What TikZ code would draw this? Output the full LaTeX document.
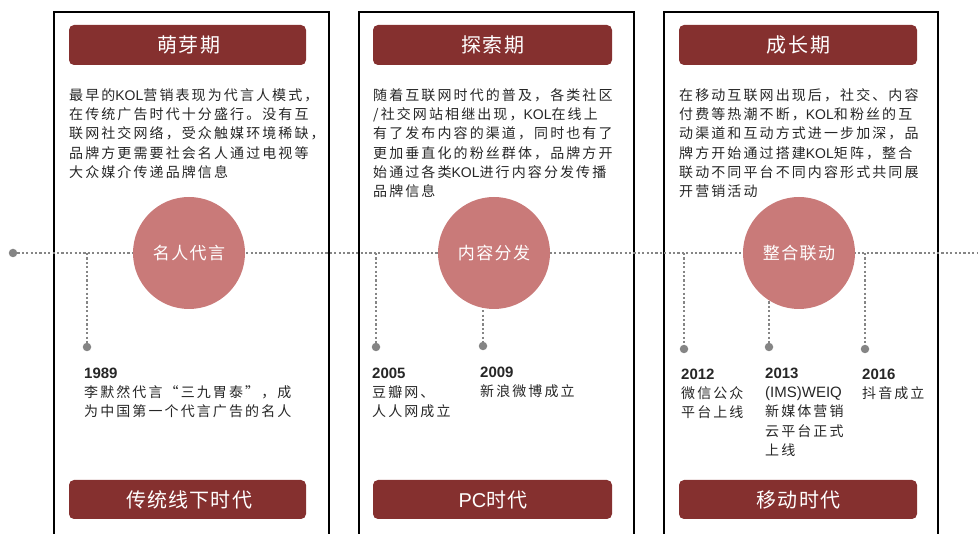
\documentclass[tikz,border=0pt]{standalone}
\usepackage{fontspec}
\setmainfont{Liberation Sans}
\newfontfamily\cjk[LetterSpace=15]{Noto Sans CJK SC}
\newfontfamily\cjktitle[LetterSpace=8]{Noto Sans CJK SC}
\newfontfamily\cjkera[LetterSpace=6]{Noto Sans CJK SC}
\newfontfamily\cjkcirc[LetterSpace=8]{Noto Sans CJK SC}
\newcommand\lat[1]{{\normalfont #1}}
\newcommand\fstrut{\rule{0pt}{14pt}}
\newcommand\yr[1]{\rule{0pt}{15pt}{\normalfont\fontsize{15}{19.3}\selectfont\bfseries #1}}
\definecolor{darkred}{HTML}{85302F}
\definecolor{pinkred}{HTML}{C97A79}
\definecolor{dotgray}{HTML}{858585}
\definecolor{txt}{HTML}{262626}
\tikzset{
  panel/.style={draw=black, line width=1.4pt},
  bar/.style={fill=darkred, draw=none, rounded corners=5pt},
  titletext/.style={text=white, font=\cjktitle\fontsize{20}{22}\selectfont},
  eratext/.style={text=white, font=\cjkera\fontsize{20}{22}\selectfont},
  desc/.style={anchor=north west, inner sep=0pt, align=left, text=txt,
     font=\cjk\fontsize{14}{19.3}\selectfont},
  circ/.style={circle, fill=pinkred, draw=none, minimum size=112pt, inner sep=0pt,
     text=white, font=\cjkcirc\fontsize{17}{19}\selectfont},
  dotline/.style={draw=dotgray, line width=2.6pt, dash pattern=on 2.2pt off 2.2pt},
  dropdot/.style={circle, fill=dotgray, draw=none, minimum size=8.5pt, inner sep=0pt},
}
\begin{document}
\begin{tikzpicture}[x=1pt,y=-1pt]
\useasboundingbox (0,0) rectangle (978,534);
% panels
\draw[panel] (54,540) -- (54,12) -- (329,12) -- (329,540);
\draw[panel] (359,540) -- (359,12) -- (634,12) -- (634,540);
\draw[panel] (664,540) -- (664,12) -- (938,12) -- (938,540);
% title bars
\path[bar] (69,25) rectangle (306,65);
\path[bar] (373,25) rectangle (612,65);
\path[bar] (679,25) rectangle (917,65);
\node[titletext] (t1) at (189,45) {萌芽期};
\node[titletext] (t2) at (493,45) {探索期};
\node[titletext] (t3) at (798.5,45) {成长期};
% bottom bars
\path[bar] (69,480) rectangle (306,519);
\path[bar] (373,480) rectangle (612,519);
\path[bar] (679,480) rectangle (917,519);
\node[eratext] (e1) at (189,499.5) {传统线下时代};
\node[eratext] (e2) at (493,499.5) {\lat{PC}时代};
\node[eratext] (e3) at (798.5,499.5) {移动时代};
% descriptions
\node[desc] (p1) at (69,86) {\fstrut 最早的\lat{KOL}营销表现为代言人模式，\\在传统广告时代十分盛行。没有互\\联网社交网络，受众触媒环境稀缺，\\品牌方更需要社会名人通过电视等\\大众媒介传递品牌信息};
\node[desc] (p2) at (373,86) {\fstrut 随着互联网时代的普及，各类社区\\/社交网站相继出现，\lat{KOL}在线上\\有了发布内容的渠道，同时也有了\\更加垂直化的粉丝群体，品牌方开\\始通过各类\lat{KOL}进行内容分发传播\\品牌信息};
\node[desc] (p3) at (679,86) {\fstrut 在移动互联网出现后，社交、内容\\付费等热潮不断，\lat{KOL}和粉丝的互\\动渠道和互动方式进一步加深，品\\牌方开始通过搭建\lat{KOL}矩阵，整合\\联动不同平台不同内容形式共同展\\开营销活动};
% timeline
\node[dropdot] (start) at (13,253) {};
\coordinate (tlend) at (978,253);
\draw[dotline] (start) -- (tlend);
% drops
\node[dropdot] (d1989) at (87,347) {};
\node[dropdot] (d2005) at (376,347) {};
\node[dropdot] (d2009) at (483,346) {};
\node[dropdot] (d2012) at (684,349) {};
\node[dropdot] (d2013) at (769,347) {};
\node[dropdot] (d2016) at (865,349) {};
\foreach \d in {d1989,d2005,d2009,d2012,d2013,d2016}
  \draw[dotline] (\d |- start) -- (\d);
% circles
\node[circ] (c1) at (189,253) {名人代言};
\node[circ] (c2) at (494,253) {内容分发};
\node[circ] (c3) at (799,253) {整合联动};
% events
\node[desc] (y1989) at (84,363) {\yr{1989}\\李默然代言“三九胃泰”，成\\为中国第一个代言广告的名人};
\node[desc] (y2005) at (372,363) {\yr{2005}\\豆瓣网、\\人人网成立};
\node[desc] (y2009) at (480,362) {\yr{2009}\\新浪微博成立};
\node[desc] (y2012) at (681,364) {\yr{2012}\\微信公众\\平台上线};
\node[desc] (y2013) at (765,363) {\yr{2013}\\{\normalfont\fontsize{15}{19.3}\selectfont (IMS)WEIQ}\\新媒体营销\\云平台正式\\上线};
\node[desc] (y2016) at (862,364) {\yr{2016}\\抖音成立};
\end{tikzpicture}
\end{document}
